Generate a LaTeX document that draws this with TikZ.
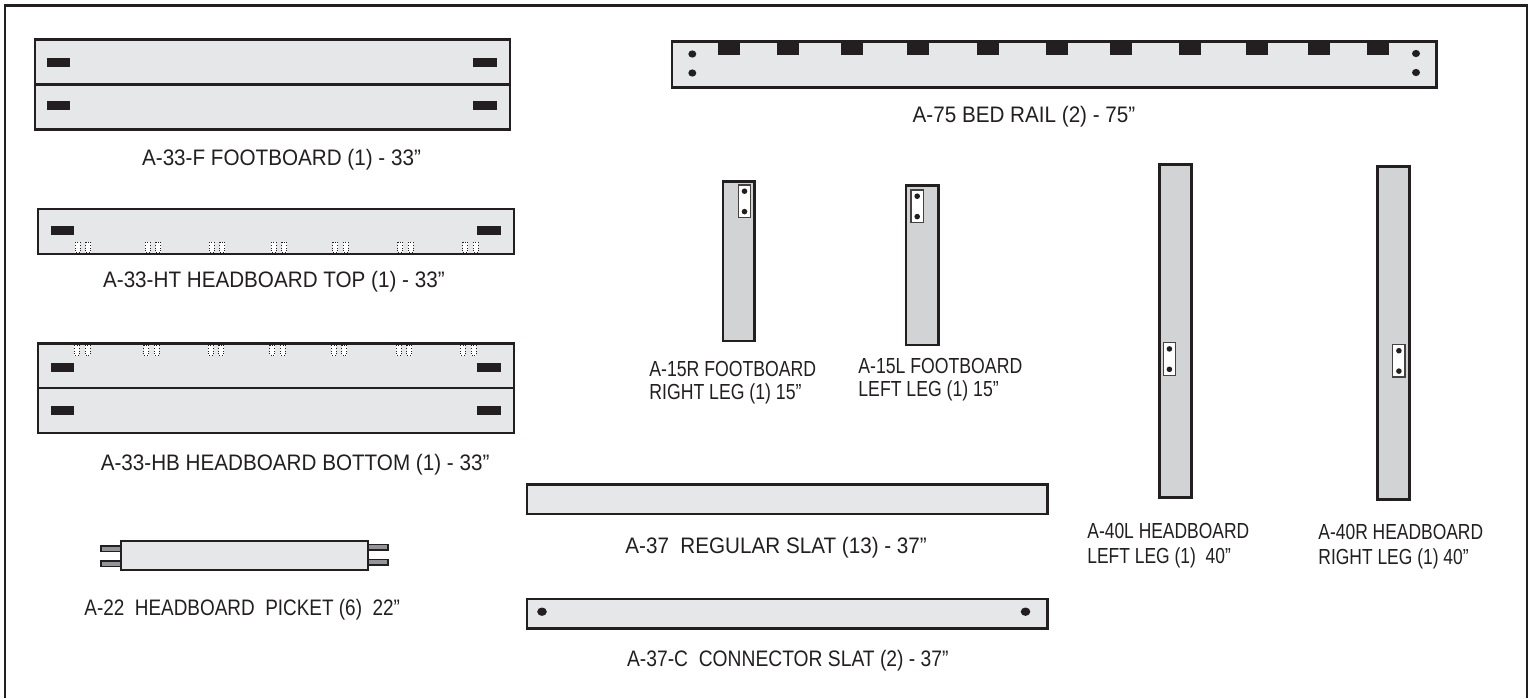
\documentclass[tikz,border=0pt]{standalone}
\usepackage{fontspec}
\setmainfont{Liberation Sans}
\newfontfamily\fwide[FakeStretch=0.922]{Liberation Sans}
\newfontfamily\fconn[FakeStretch=0.86]{Liberation Sans}
\newfontfamily\fpick[FakeStretch=0.845]{Liberation Sans}
\newfontfamily\ffoot[FakeStretch=0.81]{Liberation Sans}
\newfontfamily\fhead[FakeStretch=0.80]{Liberation Sans}
\definecolor{ink}{HTML}{231F20}
\definecolor{boardgray}{HTML}{E6E7E8}
\definecolor{leggray}{HTML}{D1D3D4}
\definecolor{peggray}{HTML}{939598}
\tikzset{
 board/.style={draw=ink,line width=1.2pt,fill=boardgray},
 leg/.style={draw=ink,line width=1.4pt,fill=leggray},
 plate/.style={draw=ink!85,line width=0.6pt,fill=white},
 peg/.style={draw=ink,line width=0.6pt,fill=peggray},
 dowel/.style={draw=ink,line width=0.4pt,densely dotted,fill=white},
 lab/.style={text=ink,inner sep=0pt,align=left},
 mainlab/.style={lab,font=\fwide\fontsize{11.2}{12.5}\selectfont},
 connlab/.style={lab,font=\fconn\fontsize{11.2}{12.5}\selectfont},
 picklab/.style={lab,font=\fpick\fontsize{11.2}{12.5}\selectfont},
 footlab/.style={lab,font=\ffoot\fontsize{10.9}{11.5}\selectfont},
 headlab/.style={lab,font=\fhead\fontsize{10.9}{12.5}\selectfont},
}
\newcommand{\slotat}[2]{\fill[ink] (#1,#2) rectangle ++(23.5,9);}
\newcommand{\dpair}[2]{\draw[dowel] (#1,#2) rectangle ++(5,10.5); \draw[dowel] (#1+10.5,#2) rectangle ++(5,10.5);}
\newcommand{\plateat}[2]{\draw[plate] (#1,#2) rectangle ++(12.3,32.5); \fill[ink] (#1+6.2,#2+6.2) circle (1.4pt); \fill[ink] (#1+6.2,#2+26.6) circle (1.4pt);}
\begin{document}
\begin{tikzpicture}[x=0.5pt,y=-0.5pt]
\useasboundingbox (0,0) rectangle (1531,698);
\fill[white] (0,0) rectangle (1531,698);
\draw[draw=ink,line width=1.25pt] (5,698) -- (5,5.5) -- (1527,5.5) -- (1527,698);
% footboard
\draw[board] (35,39.5) rectangle (510,84.5);
\draw[board] (35,84.5) rectangle (510,129.5);
\slotat{46.6}{57.5}\slotat{473}{57.5}\slotat{46.6}{100.5}\slotat{473}{100.5}
\node[mainlab,anchor=base west] (t1) at (141.7,165) {A-33-F FOOTBOARD (1) - 33”};
% headboard top
\draw[board] (38,209) rectangle (514,254);
\slotat{50.7}{225.5}\slotat{477}{225.5}
\foreach \x in {75,145,209,271,332.7,397.6,462.5}{\dpair{\x}{242}}
\node[mainlab,anchor=base west] (t2) at (102.7,287) {A-33-HT HEADBOARD TOP (1) - 33”};
% headboard bottom
\draw[board] (38,343.5) rectangle (514,388);
\draw[board] (38,388) rectangle (514,433);
\slotat{50.7}{362.5}\slotat{477}{362.5}\slotat{50.7}{406}\slotat{477}{406}
\foreach \x in {74.4,143.7,208,269.8,331.3,396.2,460.4}{\dpair{\x}{345}}
\node[mainlab,anchor=base west] (t3) at (100.4,470) {A-33-HB HEADBOARD BOTTOM (1) - 33”};
% picket
\draw[peg] (101,546) rectangle (121,551.5);
\draw[peg] (101,561) rectangle (121,566.5);
\draw[peg] (368,544.5) rectangle (388,550);
\draw[peg] (368,559.5) rectangle (388,565);
\draw[board] (121,541) rectangle (368,570);
\node[picklab,anchor=base west] (t4) at (84,615) {A-22\ \ HEADBOARD\ \ PICKET (6)\ \ 22”};
% rail
\draw[board] (672,41.5) rectangle (1436.5,87.5);
\foreach \x in {718,777,841,907,977,1046,1110,1179,1246,1308,1367}{\fill[ink] (\x,41.5) rectangle ++(22,13.5);}
\foreach \x/\ya/\yb in {692.3/54/73,1416/53.5/72.5}{
 \fill[ink] (\x,\ya) ellipse (2pt and 1.8pt);
 \fill[ink] (\x,\yb) ellipse (2pt and 1.8pt);}
\node[mainlab,anchor=base] (t5) at (1024,122) {A-75 BED RAIL (2) - 75”};
% legs
\draw[leg] (723,181.5) rectangle (754.5,341); \plateat{738.3}{185}
\draw[leg] (906,185.5) rectangle (938.5,345); \plateat{911}{190}
\draw[leg] (1159.5,164.5) rectangle (1191.5,497.5); \plateat{1163.2}{342.7}
\draw[leg] (1377.5,166.5) rectangle (1409.5,499.5); \plateat{1392.7}{344.5}
\node[footlab,anchor=north west] (t6) at (649,360.5) {A-15R FOOTBOARD\\RIGHT LEG (1) 15”};
\node[footlab,anchor=north west] (t7) at (858,357.5) {A-15L FOOTBOARD\\LEFT LEG (1) 15”};
\node[headlab,anchor=north west] (t8) at (1087,522.5) {A-40L HEADBOARD\\LEFT LEG (1)\ \ 40”};
\node[headlab,anchor=north west] (t9) at (1318,523.5) {A-40R HEADBOARD\\RIGHT LEG (1) 40”};
% slats
\draw[board] (527,484.5) rectangle (1047.5,514);
\node[mainlab,anchor=base west] (t10) at (625,553) {A-37\ \ REGULAR SLAT (13) - 37”};
\draw[board] (527,599) rectangle (1047.5,628.5);
\fill[ink] (542,611.7) ellipse (2.4pt and 2.1pt);
\fill[ink] (1025.5,611.7) ellipse (2.4pt and 2.1pt);
\node[connlab,anchor=base west] (t11) at (626.7,666) {A-37-C\ \ CONNECTOR SLAT (2) - 37”};
\end{tikzpicture}
\end{document}
